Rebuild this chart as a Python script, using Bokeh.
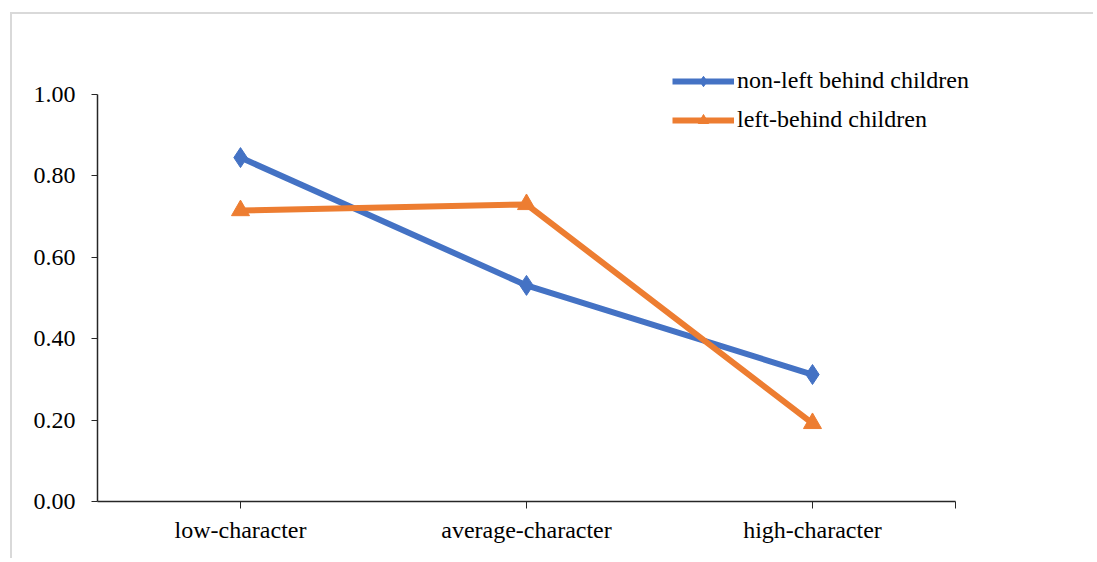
from bokeh.plotting import figure
from bokeh.models import FixedTicker, Range1d, Legend, LegendItem
from bokeh.embed import file_html
from bokeh.resources import INLINE

categories = ["low-character", "average-character", "high-character"]
non_left = [0.845, 0.531, 0.312]
left_behind = [0.715, 0.730, 0.192]
y_ticks = [0.0, 0.2, 0.4, 0.6, 0.8, 1.0]

xs = [i + 0.5 for i in range(len(categories))]

p = figure(width=1083, height=546, output_backend="svg", toolbar_location=None,
           x_range=Range1d(0, 3.4196), y_range=Range1d(0, 1.1474),
           min_border_left=85, min_border_right=20, min_border_top=20, min_border_bottom=59)
p.styles = {"border-left": "2px solid #d9d9d9", "border-top": "2px solid #d9d9d9",
            "margin-left": "10px", "margin-top": "12px"}
p.outline_line_color = None
p.grid.visible = False
p.background_fill_color = "white"

font = "Liberation Serif"

p.xaxis.ticker = FixedTicker(ticks=xs + [3])
p.xaxis.bounds = (0, 3)
p.xaxis.major_label_overrides = {x: c for x, c in zip(xs, categories)} | {3: ""}
p.xaxis.minor_tick_line_color = None
p.xaxis.major_tick_out = 7
p.xaxis.major_tick_in = 0
p.xaxis.major_label_standoff = 8
p.xaxis.major_label_text_font = font
p.xaxis.major_label_text_font_size = "24px"
p.xaxis.major_label_text_color = "#000000"
p.xaxis.axis_line_color = "#262626"
p.xaxis.axis_line_width = 1.5
p.xaxis.major_tick_line_color = "#262626"

p.yaxis.ticker = FixedTicker(ticks=y_ticks)
p.yaxis.bounds = (0, 1)
p.yaxis.major_label_overrides = {t: f"{t:.2f}" for t in y_ticks}
p.yaxis.minor_tick_line_color = None
p.yaxis.major_tick_out = 6
p.yaxis.major_tick_in = 0
p.yaxis.major_label_standoff = 16
p.yaxis.major_label_text_font = font
p.yaxis.major_label_text_font_size = "24px"
p.yaxis.major_label_text_color = "#000000"
p.yaxis.axis_line_color = "#262626"
p.yaxis.axis_line_width = 1.5
p.yaxis.major_tick_line_color = "#262626"

blue = "#4472C4"
orange = "#ED7D31"

l1 = p.line(xs, non_left, line_color=blue, line_width=6)
m1 = p.scatter(xs, non_left, marker="diamond", size=20, fill_color=blue, line_color=blue)
l2 = p.line(xs, left_behind, line_color=orange, line_width=6)
m2 = p.scatter(xs, left_behind, marker="triangle", size=18, fill_color=orange, line_color=orange)

legend = Legend(items=[
    LegendItem(label="non-left behind children", renderers=[l1, m1]),
    LegendItem(label="left-behind children", renderers=[l2, m2]),
], location=(575, 368))
legend.border_line_color = None
legend.background_fill_alpha = 0
legend.padding = 0
legend.margin = 0
legend.spacing = 12
legend.glyph_width = 62
legend.glyph_height = 26
legend.label_standoff = 3
legend.label_text_font = font
legend.label_text_font_size = "24px"
legend.label_text_color = "#000000"
p.add_layout(legend, "center")

open("out.html", "w").write(file_html(p, INLINE))
